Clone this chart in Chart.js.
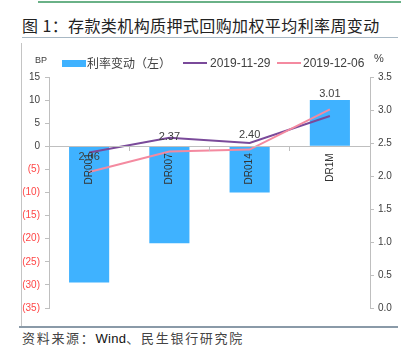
<!DOCTYPE html>
<html><head><meta charset="utf-8">
<script src="https://cdn.jsdelivr.net/npm/chart.js@4/dist/chart.umd.min.js"></script>
<style>
html,body{margin:0;padding:0;background:#fff;width:401px;height:353px;overflow:hidden;font-family:"Liberation Sans","Noto Sans CJK SC",sans-serif;}
#wrap{position:relative;width:401px;height:353px;}
canvas{position:absolute;left:0;top:0;}
.abs{position:absolute;white-space:nowrap;}
</style></head>
<body><div id="wrap">
<div class="abs" style="left:38px;top:1px;width:363px;height:2px;background:#6ab187;"></div>
<div class="abs" id="title" style="left:22px;top:14px;font-size:16px;letter-spacing:0.4px;color:#222;line-height:22px;font-family:'Noto Sans CJK SC',sans-serif;">图 1：存款类机构质押式回购加权平均利率周变动</div>
<div class="abs" style="left:22px;top:37px;width:376px;height:1px;background:#a8b8c4;"></div>
<div class="abs" style="left:21px;top:43px;width:1px;height:284px;background:#c4c4c4;"></div>
<div class="abs" style="left:19px;top:326px;width:379px;height:2px;background:#8a9aa8;"></div>
<div class="abs" id="src" style="left:22px;top:330px;font-size:13px;letter-spacing:1.7px;color:#444;line-height:16px;font-family:'Noto Sans CJK SC',sans-serif;">资料来源：<span style="font-family:'Liberation Sans',sans-serif;color:#111;letter-spacing:0.3px;">Wind</span>、民生银行研究院</div>
<canvas id="c" width="401" height="353"></canvas>
<div class="abs" style="left:35px;top:55px;font-size:9px;color:#404040;line-height:10px;">BP</div>
<div class="abs" style="left:374px;top:52px;font-size:11px;color:#404040;line-height:12px;">%</div>
<div class="abs" style="left:62px;top:60px;width:24px;height:7px;background:#3fb2ff;"></div>
<div class="abs" style="left:87px;top:56px;font-size:12px;color:#404040;line-height:14px;font-family:'Noto Sans CJK SC',sans-serif;">利率变动（左）</div>
<div class="abs" style="left:183px;top:62px;width:24px;height:2px;background:#7a4a9a;"></div>
<div class="abs" style="left:210px;top:56px;font-size:12px;color:#404040;line-height:14px;">2019-11-29</div>
<div class="abs" style="left:277px;top:62px;width:24px;height:2px;background:#f48aa0;"></div>
<div class="abs" style="left:303px;top:56px;font-size:12px;color:#404040;line-height:14px;">2019-12-06</div>
</div>
<script>
const categories = ["DR001", "DR007", "DR014", "DR1M"];
const changeBP = [-29.5, -21, -10, 10];
const rate1129 = [2.355, 2.58, 2.50, 2.91];
const rate1206 = [2.06, 2.37, 2.40, 3.01];
const leftTicks = [-35, 15, 5];
const rightTicks = [0, 3.5, 0.5];

const labelPlugin = {
  id: 'ptLabels',
  afterDatasetsDraw(chart) {
    const meta = chart.getDatasetMeta(2);
    const ctx = chart.ctx;
    ctx.save();
    ctx.font = '11px "Liberation Sans", sans-serif';
    ctx.fillStyle = '#404040';
    ctx.textAlign = 'center';
    ctx.textBaseline = 'middle';
    meta.data.forEach((pt, i) => {
      ctx.fillText(rate1206[i].toFixed(2), pt.x, pt.y - 15);
    });
    ctx.restore();
  }
};

new Chart(document.getElementById('c'), {
  data: {
    labels: categories,
    datasets: [
      { type: 'bar', label: '利率变动（左）', data: changeBP, backgroundColor: '#3fb2ff', yAxisID: 'y', barPercentage: 0.5, categoryPercentage: 1.0, order: 3 },
      { type: 'line', label: '2019-11-29', data: rate1129, borderColor: '#7a4a9a', borderWidth: 2, pointRadius: 0, yAxisID: 'y1', order: 2 },
      { type: 'line', label: '2019-12-06', data: rate1206, borderColor: '#f48aa0', borderWidth: 2, pointRadius: 0, yAxisID: 'y1', order: 1 }
    ]
  },
  options: {
    responsive: false,
    animation: false,
    devicePixelRatio: 1,
    layout: { padding: { top: 77, bottom: 45, left: 0, right: 0 } },
    plugins: { legend: { display: false }, tooltip: { enabled: false } },
    scales: {
      x: {
        position: { y: 0 },
        offset: true,
        grid: { offset: true, drawOnChartArea: false, tickLength: 4, color: '#bfbfbf', z: 1 },
        border: { color: '#bfbfbf', z: 1 },
        ticks: { z: 1, minRotation: 90, maxRotation: 90, padding: 3, color: '#333333', font: { size: 10, family: 'Liberation Sans' } }
      },
      y: {
        position: 'left',
        min: leftTicks[0], max: leftTicks[1],
        afterFit(s) { s.width = 49; },
        grid: { drawOnChartArea: false, tickLength: 4, color: '#bfbfbf' },
        border: { color: '#bfbfbf' },
        ticks: {
          stepSize: leftTicks[2], padding: 5,
          font: { size: 10, family: 'Liberation Sans' },
          color: (c) => c.tick.value < 0 ? '#ff4646' : '#404040',
          callback: (v) => v < 0 ? '(' + (-v) + ')' : String(v)
        }
      },
      y1: {
        position: 'right',
        min: rightTicks[0], max: rightTicks[1],
        afterFit(s) { s.width = 31; },
        grid: { drawOnChartArea: false, tickLength: 4, color: '#bfbfbf' },
        border: { color: '#bfbfbf' },
        ticks: {
          stepSize: rightTicks[2], padding: 4,
          font: { size: 10, family: 'Liberation Sans' },
          color: '#404040',
          callback: (v) => Number(v).toFixed(1)
        }
      }
    }
  },
  plugins: [labelPlugin]
});
</script>
</body></html>
